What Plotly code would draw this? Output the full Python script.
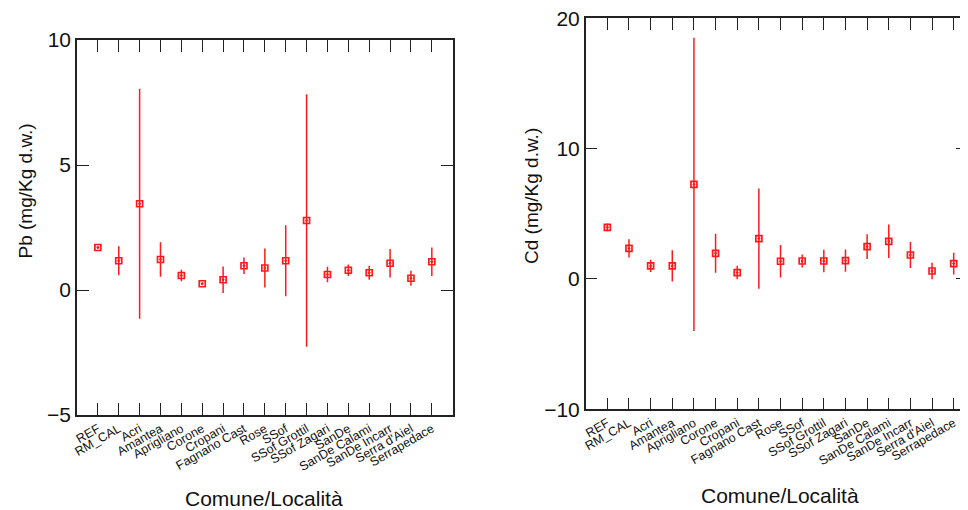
import plotly.graph_objects as go

categories = ["REF", "RM_CAL", "Acri", "Amantea", "Aprigliano", "Corone", "Cropani",
              "Fagnano Cast", "Rose", "SSof", "SSof Grottil", "SSof Zagari", "SanDe",
              "SanDe Calami", "SanDe Incarr", "Serra d'Aiel", "Serrapedace"]

pb_mean = [1.70, 1.17, 3.45, 1.22, 0.58, 0.25, 0.41, 0.97, 0.88, 1.17, 2.78, 0.62, 0.79,
           0.69, 1.07, 0.47, 1.13]
pb_err = [0.05, 0.58, 4.60, 0.69, 0.23, 0.05, 0.53, 0.33, 0.78, 1.42, 5.05, 0.31, 0.23,
          0.28, 0.57, 0.30, 0.57]

cd_mean = [3.96, 2.35, 1.00, 1.00, 7.26, 1.97, 0.49, 3.10, 1.36, 1.38, 1.38, 1.41, 2.48,
           2.89, 1.84, 0.61, 1.18]
cd_err = [0.30, 0.70, 0.47, 1.20, 11.25, 1.50, 0.52, 3.85, 1.25, 0.50, 0.87, 0.85, 0.95,
          1.29, 0.99, 0.64, 0.83]

pb_ticks = [-5, 0, 5, 10]
cd_ticks = [-10, 0, 10, 20]

OFF = 8  # page body margin offset
W, H = 968 - OFF, 510 - OFF
RED = "#ff1a1a"
FONT = "Liberation Sans, Arial, sans-serif"


def px(x):
    return (x - OFF) / W


def py(y):
    return 1 - (y - OFF) / H


# right panel: category spacing 21.65 px starting at 607.3 px, clipped at the window edge
right_max = (968 - 607.3) / 21.65

marker = dict(symbol="square-open-dot", size=6, color=RED, line=dict(width=1.7, color=RED))

fig = go.Figure()
fig.add_trace(go.Scatter(
    x=categories, y=pb_mean, mode="markers", xaxis="x", yaxis="y",
    error_y=dict(type="data", array=pb_err, visible=True, color=RED, thickness=1.5, width=0),
    marker=marker, showlegend=False))
fig.add_trace(go.Scatter(
    x=categories, y=cd_mean, mode="markers", xaxis="x2", yaxis="y2",
    error_y=dict(type="data", array=cd_err, visible=True, color=RED, thickness=1.5, width=0),
    marker=marker, showlegend=False))

axis_common = dict(showgrid=False, zeroline=False, showline=True, linecolor="#222",
                   linewidth=1.5, ticks="inside", ticklen=12, tickwidth=1.2,
                   tickcolor="#222", mirror="ticks", automargin=False,
                   ticklabeloverflow="allow")

xcommon = dict(axis_common, type="category", categoryorder="array", categoryarray=categories,
               tickangle=-30, tickfont=dict(size=12.5, color="#111", family=FONT))

fig.update_layout(
    template="none",
    width=W, height=H,
    margin=dict(l=0, r=0, t=0, b=0, pad=0),
    paper_bgcolor="white", plot_bgcolor="white",
    font=dict(family=FONT, color="#111"),
    xaxis=dict(xcommon, domain=[px(77), px(452.7)], anchor="y", range=[-1, 17]),
    yaxis=dict(axis_common, domain=[py(415), py(40)], anchor="x",
               range=[-5, 10], tickvals=pb_ticks, tickfont=dict(size=21)),
    xaxis2=dict(xcommon, domain=[px(585.7), 1.0], anchor="y2", range=[-1, right_max]),
    yaxis2=dict(axis_common, domain=[py(409.3), py(18.3)], anchor="x2",
                range=[-10, 20], tickvals=cd_ticks, tickfont=dict(size=21)),
    annotations=[
        dict(text="Pb (mg/Kg d.w.)", x=px(25), y=py(191.5), xref="paper", yref="paper",
             textangle=-90, showarrow=False, font=dict(size=19), xanchor="center", yanchor="middle"),
        dict(text="Cd (mg/Kg d.w.)", x=px(531), y=py(196), xref="paper", yref="paper",
             textangle=-90, showarrow=False, font=dict(size=19), xanchor="center", yanchor="middle"),
        dict(text="Comune/Località", x=px(264), y=py(498), xref="paper", yref="paper",
             showarrow=False, font=dict(size=21), xanchor="center", yanchor="middle"),
        dict(text="Comune/Località", x=px(780), y=py(495), xref="paper", yref="paper",
             showarrow=False, font=dict(size=21), xanchor="center", yanchor="middle"),
    ],
)

fig.write_html("out.html")
